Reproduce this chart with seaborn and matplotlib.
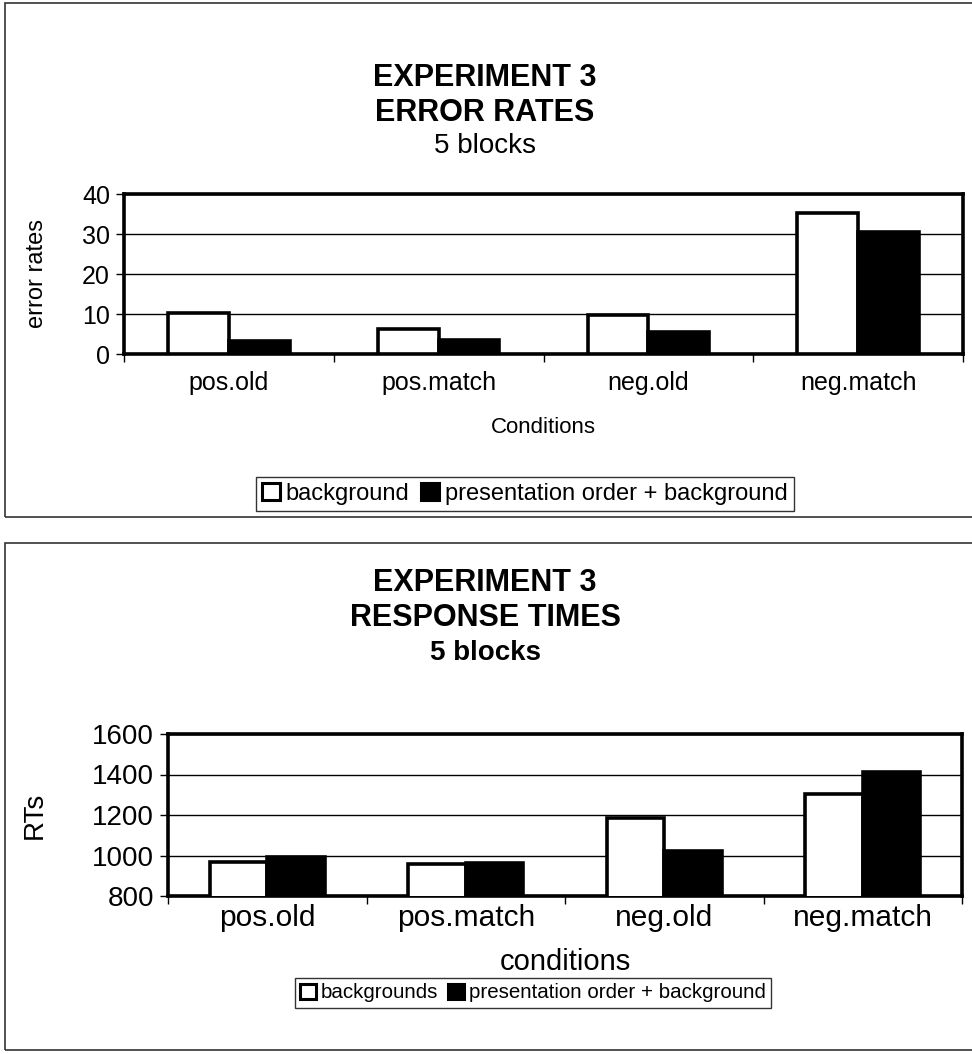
import matplotlib
matplotlib.use("Agg")
import matplotlib.pyplot as plt
import seaborn as sns
import pandas as pd
from matplotlib.patches import Rectangle
from matplotlib.ticker import FixedLocator, NullFormatter

sns.set_theme(style="white")
plt.rcParams['font.family'] = ['Liberation Sans', 'DejaVu Sans']
plt.rcParams['text.color'] = 'black'
plt.rcParams['axes.labelcolor'] = 'black'
plt.rcParams['xtick.color'] = 'black'
plt.rcParams['ytick.color'] = 'black'

# ---------------- data ----------------
conditions_err = ["pos.old", "pos.match", "neg.old", "neg.match"]
err_series = ["background", "presentation order + background"]
err_background = [10.3, 6.3, 9.7, 35.3]
err_presentation = [3.3, 3.4, 5.5, 30.6]
err_yticks = [0, 10, 20, 30, 40]

conditions_rt = ["pos.old", "pos.match", "neg.old", "neg.match"]
rt_series = ["backgrounds", "presentation order + background"]
rt_background = [968, 960, 1185, 1305]
rt_presentation = [995, 963, 1020, 1410]
rt_yticks = [800, 1000, 1200, 1400, 1600]

W, H = 972, 1054
fig = plt.figure(figsize=(W / 100, H / 100), dpi=100)


def fx(px):
    return px / W


def fy(py):
    return 1 - py / H


def axes_rect(left, top, right, bottom):
    return [fx(left), fy(bottom), fx(right) - fx(left), fy(top) - fy(bottom)]


def build_df(conds, series, a, b):
    rows = []
    for c, v in zip(conds, a):
        rows.append({"cond": c, "series": series[0], "value": v})
    for c, v in zip(conds, b):
        rows.append({"cond": c, "series": series[1], "value": v})
    return pd.DataFrame(rows)


def draw_panel(ax, df, series, conds, yticks, ylabel, xlabel,
               ytick_fs, xtick_fs, label_fs, ylabel_fs, legend_fs,
               xpad, ylabel_x, xlabel_y, legend_xy):
    sns.barplot(data=df, x="cond", y="value", hue="series", order=conds,
                hue_order=series, palette=["white", "black"], width=0.58,
                edgecolor="black", linewidth=2.6, saturation=1, ax=ax,
                legend=True, zorder=3)
    ax.set_ylim(yticks[0], yticks[-1])
    ax.set_xlim(-0.5, len(conds) - 0.5)
    ax.set_yticks(yticks)
    ax.set_yticklabels([str(t) for t in yticks], fontsize=ytick_fs)
    ax.yaxis.grid(True, color="black", linewidth=1.0, zorder=0)
    ax.set_axisbelow(True)
    for s in ax.spines.values():
        s.set_color("black")
        s.set_linewidth(2.6)
    ax.tick_params(axis="y", which="major", direction="out", length=6,
                   width=1, color="black", pad=4, left=True)
    ax.set_xticks(range(len(conds)))
    ax.set_xticklabels(conds, fontsize=xtick_fs)
    ax.tick_params(axis="x", which="major", length=0, pad=xpad)
    ax.xaxis.set_minor_locator(FixedLocator([i - 0.5 for i in range(len(conds) + 1)]))
    ax.xaxis.set_minor_formatter(NullFormatter())
    ax.tick_params(axis="x", which="minor", direction="out", length=6,
                   width=1, color="black", bottom=True)
    ax.set_ylabel(ylabel, fontsize=ylabel_fs)
    ax.yaxis.set_label_coords(ylabel_x, 0.5)
    ax.set_xlabel(xlabel, fontsize=label_fs, va="center")
    ax.xaxis.set_label_coords(0.5, xlabel_y)
    ax.get_legend().remove()
    handles, labels = ax.get_legend_handles_labels()
    leg = fig.legend(handles, labels, loc="center", bbox_to_anchor=legend_xy,
                     ncol=2, frameon=True, fancybox=False, edgecolor="black",
                     fontsize=legend_fs, handlelength=0.75, handleheight=0.75,
                     handletextpad=0.25, columnspacing=0.5, borderpad=0.25,
                     borderaxespad=0)
    leg.get_frame().set_linewidth(1.0)
    for h in leg.legend_handles:
        h.set_edgecolor("black")
        h.set_linewidth(2.2)


# panel frames
fig.patches.append(Rectangle((fx(5), fy(517)), fx(1000) - fx(5), fy(3) - fy(517),
                             transform=fig.transFigure, fill=False,
                             edgecolor="#333333", linewidth=1.2))
fig.patches.append(Rectangle((fx(5), fy(1050)), fx(1000) - fx(5), fy(543) - fy(1050),
                             transform=fig.transFigure, fill=False,
                             edgecolor="#333333", linewidth=1.2))

# ---------- top chart ----------
ax1 = fig.add_axes(axes_rect(124, 194, 963, 354))
df1 = build_df(conditions_err, err_series, err_background, err_presentation)
draw_panel(ax1, df1, err_series, conditions_err, err_yticks, "error rates",
           "Conditions", 18, 18, 16, 17, 17, 12, -0.09, -0.46,
           (fx(525), fy(494)))
fig.text(fx(485), fy(78), "EXPERIMENT 3", ha="center", va="center",
         fontsize=22, fontweight="bold")
fig.text(fx(485), fy(113), "ERROR RATES", ha="center", va="center",
         fontsize=22, fontweight="bold")
fig.text(fx(485), fy(146), "5 blocks", ha="center", va="center", fontsize=20)

# ---------- bottom chart ----------
ax2 = fig.add_axes(axes_rect(168, 734, 962, 896))
df2 = build_df(conditions_rt, rt_series, rt_background, rt_presentation)
draw_panel(ax2, df2, rt_series, conditions_rt, rt_yticks, "RTs",
           "conditions", 20, 21.5, 21, 20, 14.8, 6, -0.151, -0.41,
           (fx(533), fy(993)))
fig.text(fx(485), fy(583), "EXPERIMENT 3", ha="center", va="center",
         fontsize=22, fontweight="bold")
fig.text(fx(485), fy(618), "RESPONSE TIMES", ha="center", va="center",
         fontsize=22, fontweight="bold")
fig.text(fx(485), fy(653), "5 blocks", ha="center", va="center",
         fontsize=20, fontweight="bold")

fig.savefig("out.png", dpi=100, facecolor="white")
